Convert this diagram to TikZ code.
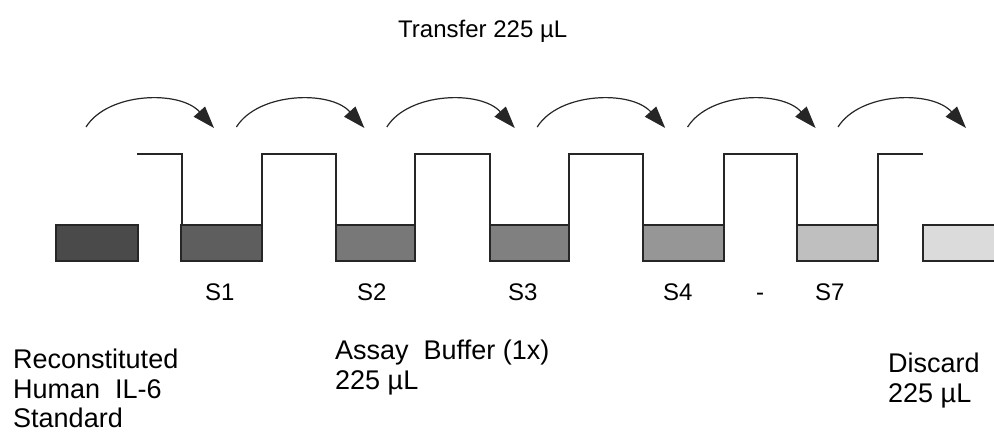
\documentclass[tikz,border=0pt]{standalone}
\usepackage{fontspec}
\setmainfont{Liberation Sans}
\usepackage{tikz}
\usetikzlibrary{arrows.meta}
\tikzset{>={Triangle[length=22pt,width=15pt]}}
\tikzset{
  well/.style={draw=black!85,line width=1.6pt},
  wave/.style={draw=black!85,line width=1.6pt},
  hop/.style={->,line width=1.2pt,black!85},
  toplbl/.style={anchor=base west,inner sep=0pt,font=\fontsize{24}{29}\selectfont},
  botlbl/.style={anchor=north west,inner sep=0pt,align=left,font=\fontsize{27}{29.5}\selectfont}
}
\begin{document}
\begin{tikzpicture}[line join=miter,x=1pt,y=-1pt]
			\useasboundingbox (0,0) rectangle (994,432);
			\clip (0,0) rectangle (994,432);
			% dilution wells
			\foreach \xa/\xb/\grey in {56/138/71, 181/262/63, 336/415/53, 490/569/50, 643/724/41, 797/878/25, 923/1010/14}
				\draw[well,fill=black!\grey] (\xa,225) rectangle (\xb,261);
			\draw[wave] (137,154) -- (182,154) -- (182,225) -- (262,225) -- (262,154) -- (336,154) -- (336,225)
				-- (415,225) -- (415,154) -- (490,154) -- (490,225) -- (569,225) -- (569,154) -- (643,154) -- (643,225)
				-- (724,225) -- (724,154) -- (797,154) -- (797,225) -- (878,225) -- (878,154) -- (923,154);
			% transfer arrows
			\foreach \i in {0,...,5} {
				\coordinate (from\i) at ({86+150.4*\i},127);
				\coordinate (to\i) at ({214+150.4*\i},128);
				\draw[hop] (from\i) .. controls +(22,-35) and +(-34,-38) .. (to\i);
			}
			\node[toplbl] (transfer) at (398,37) {Transfer 225 µL};
			\node[toplbl] (s1) at (205,300) {S1};
			\node[toplbl] (s2) at (357,300) {S2};
			\node[toplbl] (s3) at (508,300) {S3};
			\node[toplbl] (s4) at (663,300) {S4};
			\node[toplbl] (dash) at (756,300) {-};
			\node[toplbl] (s7) at (815,300) {S7};
			\node[botlbl] (standard) at (13,349) {Reconstituted\\Human\ \ IL-6\\Standard};
			\node[botlbl] (buffer) at (335,340) {Assay\ \ Buffer (1x)\\225 µL};
			\node[botlbl] (discard) at (888,353) {Discard\\225 µL};
\end{tikzpicture}
\end{document}
